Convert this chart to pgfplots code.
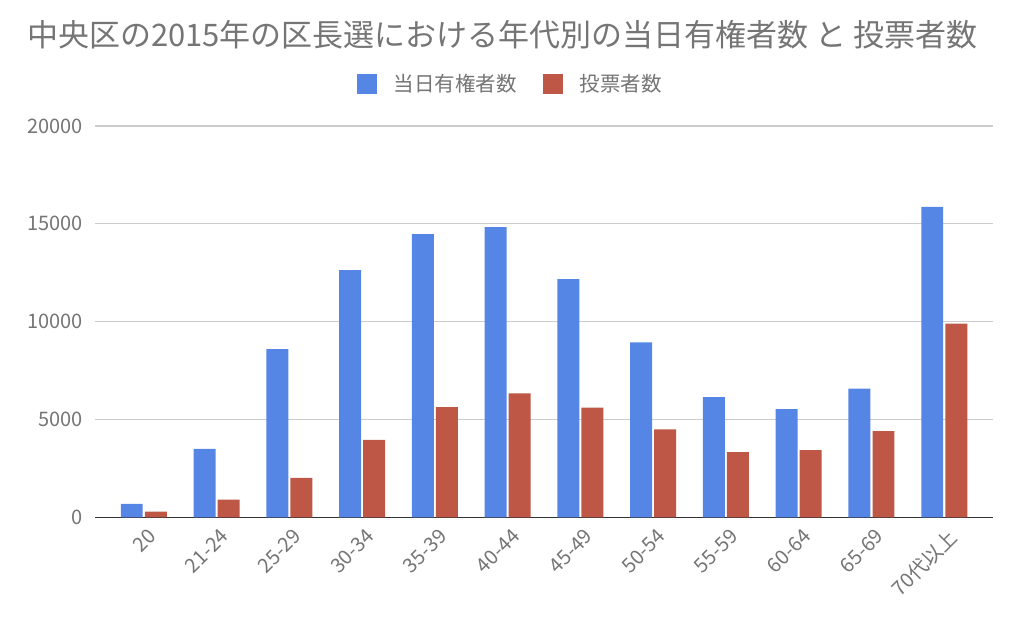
\documentclass[border=0pt]{standalone}
\usepackage{fontspec}
\setmainfont{Noto Sans CJK JP}
\usepackage{pgfplots}
\pgfplotsset{compat=1.18}
\definecolor{barblue}{HTML}{5585E5}
\definecolor{barred}{HTML}{BF5746}
\definecolor{txtgray}{HTML}{757575}
\definecolor{gridgray}{HTML}{CCCCCC}
\begin{document}
\begin{tikzpicture}
\useasboundingbox (0,0) rectangle (1024pt,625pt);
\node[text=txtgray, font=\fontsize{31}{36}\selectfont] at (502.5pt,590.5pt)
  {中央区の2015年の区長選における年代別の当日有権者数 と 投票者数};
\begin{axis}[
    at={(95pt,107.7pt)}, anchor=south west,
    width=898pt, height=391.3pt, scale only axis,
    ybar,
    xmin=-0.67, xmax=11.67,
    ymin=0, ymax=20000,
    xtick=data,
    xticklabels={20,21-24,25-29,30-34,35-39,40-44,45-49,50-54,55-59,60-64,65-69,70代以上},
    ytick={0,5000,10000,15000,20000},
    yticklabels={0,5000,10000,15000,20000},
    scaled y ticks=false,
    major tick length=0pt,
    ymajorgrids,
    grid style={gridgray, line width=1.2pt},
    axis lines*=left,
    y axis line style={draw=none},
    x axis line style={draw=black!80, line width=1.3pt},
    yticklabel style={text=txtgray, font=\fontsize{20}{24}\selectfont, inner sep=0pt, xshift=-12pt},
    xticklabel style={text=txtgray, font=\fontsize{20}{24}\selectfont, rotate=45, anchor=north east, inner sep=0pt, xshift=-4.9pt, yshift=-9.2pt},
    legend columns=2,
    legend style={at={(0.471,1)}, anchor=center, yshift=42pt, draw=none, inner sep=0pt,
        font=\fontsize{20.5}{24}\selectfont, text=txtgray,
        nodes={inner xsep=17pt, inner ysep=0pt},
        /tikz/every even column/.append style={column sep=9pt}},
    legend image code/.code={\fill[#1] (0pt,-10pt) rectangle (20pt,10pt);},
]
\addplot[fill=barblue, draw=none, bar width=0.302, bar shift=-0.165] coordinates {
    (0,690) (1,3500) (2,8600) (3,12630) (4,14470) (5,14830)
    (6,12170) (7,8940) (8,6140) (9,5525) (10,6580) (11,15870)
};
\addlegendentry{当日有権者数}
\addplot[fill=barred, draw=none, bar width=0.302, bar shift=0.165] coordinates {
    (0,290) (1,900) (2,2020) (3,3960) (4,5630) (5,6330)
    (6,5610) (7,4490) (8,3330) (9,3430) (10,4400) (11,9900)
};
\addlegendentry{投票者数}
\end{axis}
\end{tikzpicture}
\end{document}
